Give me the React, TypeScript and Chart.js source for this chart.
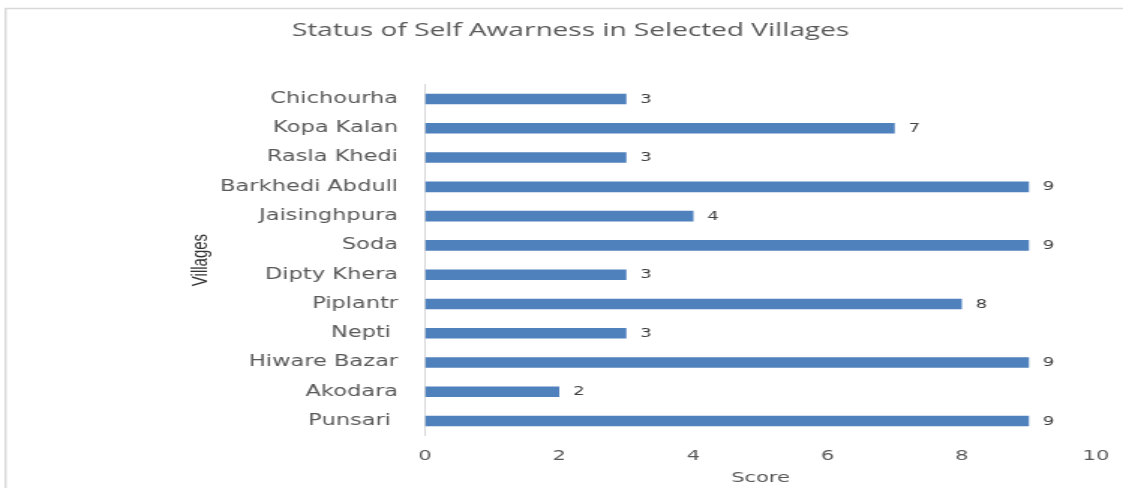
import { useEffect, useRef } from 'react';
import { Chart, registerables } from 'chart.js';

Chart.register(...registerables);

const villages = [
  'Chichourha',
  'Kopa Kalan',
  'Rasla Khedi',
  'Barkhedi Abdull',
  'Jaisinghpura',
  'Soda',
  'Dipty Khera',
  'Piplantr',
  'Nepti ',
  'Hiware Bazar',
  'Akodara',
  'Punsari ',
];
const scores = [3, 7, 3, 9, 4, 9, 3, 8, 3, 9, 2, 9];
const xTicks = [0, 2, 4, 6, 8, 10];

const chartTitle = 'Status of Self Awarness in Selected Villages';
const xTitle = 'Score';
const yTitle = 'Villages';

// The reference is horizontally stretched; draw on a narrower canvas and stretch it with CSS.
const PAGE_W = 1123;
const PAGE_H = 488;
const CANVAS_W = 749;

const framePlugin = {
  id: 'frame',
  beforeDraw(chart: any) {
    const ctx = chart.ctx;
    ctx.save();
    ctx.fillStyle = '#ffffff';
    ctx.fillRect(0, 0, chart.width, chart.height);
    ctx.strokeStyle = '#d9d9d9';
    ctx.lineWidth = 1.4;
    ctx.beginPath();
    ctx.moveTo(3.7, chart.height);
    ctx.lineTo(3.7, 8.5);
    ctx.lineTo(chart.width, 8.5);
    ctx.stroke();
    ctx.restore();
  },
};

const valueLabelPlugin = {
  id: 'valueLabels',
  afterDatasetsDraw(chart: any) {
    const ctx = chart.ctx;
    const meta = chart.getDatasetMeta(0);
    ctx.save();
    ctx.font = '12px "DejaVu Sans"';
    ctx.fillStyle = '#404040';
    ctx.textAlign = 'left';
    ctx.textBaseline = 'middle';
    meta.data.forEach((el: any, i: number) => {
      ctx.fillText(String(scores[i]), el.x + 9.3, el.y + 0.5);
    });
    ctx.restore();
  },
};

export default function App() {
  const ref = useRef<HTMLCanvasElement | null>(null);

  useEffect(() => {
    document.body.style.margin = '0';
    if (!ref.current) return;
    const tickFont = { family: '"DejaVu Sans"', size: 14 };
    const chart = new Chart(ref.current, {
      type: 'bar',
      data: {
        labels: villages,
        datasets: [
          {
            data: scores,
            backgroundColor: '#4f81bd',
            borderWidth: 0,
            categoryPercentage: 1,
            barPercentage: 0.36,
          },
        ],
      },
      plugins: [framePlugin, valueLabelPlugin],
      options: {
        indexAxis: 'y',
        responsive: false,
        devicePixelRatio: 1,
        animation: false,
        layout: { padding: { left: 30, right: 18, top: 0, bottom: 0 } },
        plugins: {
          legend: { display: false },
          tooltip: { enabled: false },
          title: {
            display: true,
            text: chartTitle,
            color: '#595959',
            font: { family: '"Open Sans"', size: 18.7, weight: 'normal' },
            padding: { top: 19.8, bottom: 42.2 },
          },
        },
        scales: {
          x: {
            type: 'linear',
            min: 0,
            max: 10,
            afterBuildTicks: (s: any) => {
              s.ticks = xTicks.map((v) => ({ value: v }));
            },
            ticks: { padding: 12.5, font: tickFont, color: '#595959' },
            grid: { display: false, drawTicks: false },
            border: { display: false },
            title: {
              display: true,
              text: xTitle,
              color: '#595959',
              font: tickFont,
              padding: { top: 0, bottom: 1 },
            },
            afterFit: (s: any) => {
              s.height = 52.4;
              s.paddingRight = 0;
              s.paddingLeft = 0;
            },
          },
          y: {
            type: 'category',
            ticks: { padding: 18, font: { family: '"DejaVu Sans"', size: 15 }, color: '#595959' },
            grid: { display: false, drawTicks: false },
            border: { display: true, color: '#d9d9d9', width: 1 },
            title: {
              display: true,
              text: yTitle,
              color: '#333333',
              font: { family: '"Liberation Sans"', size: 15 },
              padding: { top: 94.4, bottom: 0 },
            },
            afterFit: (s: any) => {
              s.width = 253.5;
            },
          },
        },
      },
    } as any);
    return () => chart.destroy();
  }, []);

  return (
    <canvas
      ref={ref}
      width={CANVAS_W}
      height={PAGE_H}
      style={{ display: 'block', width: `${PAGE_W}px`, height: `${PAGE_H}px` }}
    />
  );
}
